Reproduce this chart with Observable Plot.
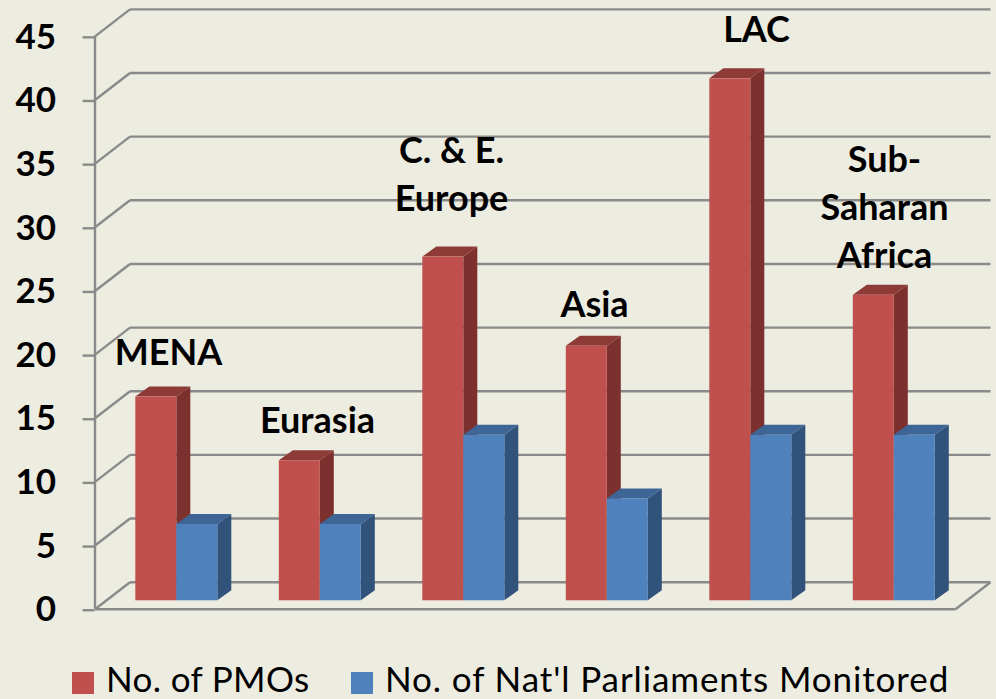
<!DOCTYPE html>
<html><head><meta charset="utf-8">
<script src="https://cdn.jsdelivr.net/npm/d3@7"></script>
<script src="https://cdn.jsdelivr.net/npm/@observablehq/plot@0.6"></script>
<style>
html,body{margin:0;padding:0;background:#EDECE0;overflow:hidden}
svg{display:block}
#legend{height:39px;position:relative;font:35px Lato,sans-serif;color:#000}
#legend span{position:absolute;white-space:nowrap;line-height:32px;top:2px}
#legend i{position:absolute;width:22px;height:22px;top:12px}
</style></head><body>
<div id="chart"></div>
<div id="legend"></div>
<script>
const categories = ["MENA","Eurasia","C. & E.\nEurope","Asia","LAC","Sub-\nSaharan\nAfrica"];
const pmos = [16,11,27,20,41,24];
const parliaments = [6,6,13,8,13,13];
const seriesNames = ["No. of PMOs","No. of Nat'l Parliaments Monitored"];
const yTicks = [0,5,10,15,20,25,30,35,40,45];

// layout in data units
const W=996,H=660,pxX=143.5,pxY=12.73,x0=135.3,yZero=608.7;
const u=p=>(p-x0)/pxX, v=p=>(yZero-p)/pxY;
const barW=41/pxX, depthX=14/pxX, depthY=10/pxY, base=v(600.3);
const wallX=35/pxX, wallY=27/pxY, axisU=u(94.5), floorEnd=u(955);
const labelPlace=[[168,349],[317,417],[451,171],[594,301],[756,26],[884,204]];

const red={front:"#C0504D",side:"#7D312F",top:"#8E3B38"};
const blue={front:"#4F81BD",side:"#31527B",top:"#3D6596"};
const grid={stroke:"#8A8A8A",strokeWidth:2.4};

function bar(i,slot,val,c){
  const a=i+slot*barW,b=a+barW,t=val+base;
  return [
    Plot.area([{x:b,y1:base,y2:t},{x:b+depthX,y1:base+depthY,y2:t+depthY}],{x1:"x",y1:"y1",y2:"y2",fill:c.side}),
    Plot.area([{x:a,y1:t,y2:t},{x:a+depthX,y1:t,y2:t+depthY},{x:b,y1:t,y2:t+depthY},{x:b+depthX,y1:t+depthY,y2:t+depthY}],{x1:"x",y1:"y1",y2:"y2",fill:c.top}),
    Plot.rect([{a,b,base,t}],{x1:"a",x2:"b",y1:"base",y2:"t",fill:c.front})
  ];
}

const plot=Plot.plot({
  width:W,height:H,marginLeft:94.5,marginRight:0,marginTop:0,marginBottom:0,
  style:{background:"transparent",fontFamily:"Lato, sans-serif",overflow:"visible"},
  x:{domain:[axisU,u(W)],range:[94.5,W],axis:null},
  y:{domain:[v(H),v(0)],range:[H,0],axis:null},
  marks:[
    Plot.link(yTicks,{x1:()=>axisU,x2:()=>axisU+wallX,y1:d=>d,y2:d=>d+wallY,...grid}),
    Plot.link(yTicks,{x1:()=>axisU+wallX,x2:()=>floorEnd+wallX,y1:d=>d+wallY,y2:d=>d+wallY,...grid}),
    Plot.link([0],{x1:()=>axisU,x2:()=>floorEnd,y1:()=>0,y2:()=>0,...grid}),
    Plot.link([0],{x1:()=>floorEnd,x2:()=>floorEnd+wallX,y1:()=>0,y2:()=>wallY,...grid}),
    Plot.ruleX([axisU],{y1:0,y2:45,...grid}),
    Plot.axisY(yTicks,{anchor:"left",tickSize:12,tickPadding:27,stroke:"#8A8A8A",strokeWidth:2.4,fill:"#000",
      fontSize:35,fontWeight:700,textStroke:"none",tickFormat:d=>String(d),label:null,dy:1}),
    ...pmos.flatMap((d,i)=>bar(i,0,d,red)),
    ...parliaments.flatMap((d,i)=>bar(i,1,d,blue)),
    Plot.text(categories,{x:(d,i)=>u(labelPlace[i][0]),y:(d,i)=>v(labelPlace[i][1]),text:d=>d,
      fontSize:36,fontWeight:700,fill:"#000",lineHeight:1.33,textAnchor:"middle"})
  ]
});
document.getElementById("chart").append(plot);
const lg=document.getElementById("legend");
[[72,106,red.front,"0.35px"],[351,385,blue.front,"0.9px"]].forEach(([sx,tx,col,ls],i)=>{
  const sw=document.createElement("i");sw.style.left=sx+"px";sw.style.background=col;lg.append(sw);
  const t=document.createElement("span");t.style.left=tx+"px";t.style.letterSpacing=ls;t.textContent=seriesNames[i];lg.append(t);
});
</script></body></html>
